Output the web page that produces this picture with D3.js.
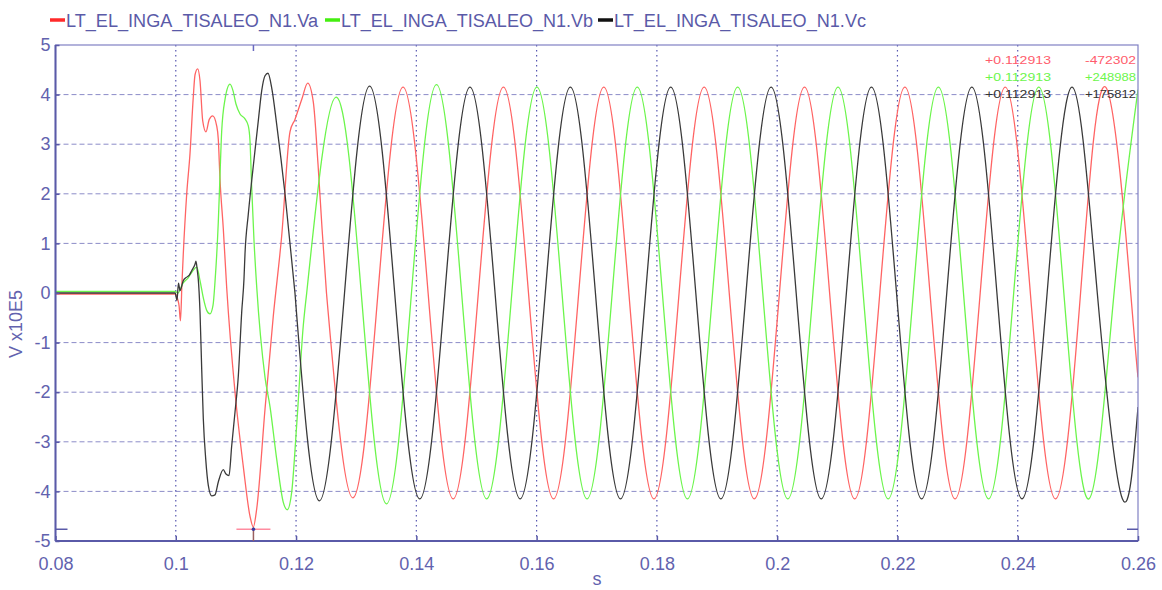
<!DOCTYPE html>
<html><head><meta charset="utf-8">
<script src="https://cdn.jsdelivr.net/npm/d3@7"></script>
<style>
html,body{margin:0;padding:0;background:#fff;}
svg{display:block;}
text{font-family:"Liberation Sans",Arial,sans-serif;}
</style></head>
<body>
<svg id="chart" width="1162" height="590"></svg>
<script>
// ---------- data ----------
const seriesNames = ["LT_EL_INGA_TISALEO_N1.Va","LT_EL_INGA_TISALEO_N1.Vb","LT_EL_INGA_TISALEO_N1.Vc"];
const xTicks = [0.08,0.1,0.12,0.14,0.16,0.18,0.2,0.22,0.24,0.26];
const xTickLabels = ["0.08","0.1","0.12","0.14","0.16","0.18","0.2","0.22","0.24","0.26"];
const yTicks = [-5,-4,-3,-2,-1,0,1,2,3,4,5];
const yGrid = [-4,-3,-2,-1,1,2,3,4];
const xGrid = [0.1,0.12,0.14,0.16,0.18,0.2,0.22,0.24];

// [time s, value x10E5 V] — fault transient part
const vaTransient = [[0.08,-0.02],[0.0999,-0.02],[0.10037,-0.15],[0.10054,-0.25],[0.10078,-0.56],[0.10103,0.2],[0.10125,0.79],[0.10182,2.0],[0.10236,2.8],[0.10291,3.95],[0.10320,4.4],[0.10364,4.52],[0.10403,4.28],[0.10448,3.47],[0.10502,3.25],[0.10557,3.5],[0.10614,3.57],[0.10680,3.37],[0.10707,3.1],[0.10735,2.3],[0.10790,1.3],[0.10847,0.1],[0.10985,-2.0],[0.11123,-3.5],[0.11234,-4.5],[0.11289,-4.72],[0.11346,-4.35],[0.11484,-2.34],[0.11622,-0.46],[0.11761,1.15],[0.11899,3.25],[0.11982,3.5],[0.12094,3.9],[0.12194,4.23],[0.12287,3.85],[0.12365,2.6],[0.12432,1.3],[0.12506,0]];
const vbTransient = [[0.08,0.03],[0.0999,0.03],[0.10037,0.0],[0.10120,0.2],[0.10203,0.3],[0.10286,0.45],[0.10348,0.52],[0.10403,0.25],[0.10458,-0.1],[0.10514,-0.35],[0.10569,-0.42],[0.10619,-0.25],[0.10652,0.22],[0.10707,1.43],[0.10735,2.36],[0.10763,3.25],[0.10818,3.9],[0.10901,4.21],[0.10951,4.08],[0.11001,3.81],[0.11068,3.61],[0.11151,3.51],[0.11206,3.37],[0.11234,3.07],[0.11262,2.14],[0.11301,1.05],[0.11346,0.12],[0.11484,-1.7],[0.11568,-2.3],[0.11678,-3.35],[0.11788,-4.22],[0.11854,-4.37],[0.11927,-4.02],[0.12010,-2.67],[0.12120,-0.66],[0.12177,0]];
const vcTransient = [[0.08,0],[0.0999,0],[0.10020,-0.15],[0.10045,0.2],[0.10070,0.05],[0.10125,0.25],[0.10182,0.32],[0.10225,0.36],[0.10265,0.45],[0.10320,0.58],[0.10336,0.64],[0.10358,0.45],[0.10374,0.28],[0.10403,-0.39],[0.10431,-1.53],[0.10458,-2.54],[0.10498,-3.35],[0.10541,-3.88],[0.10597,-4.09],[0.10652,-4.07],[0.10707,-3.81],[0.10790,-3.56],[0.10835,-3.65],[0.10885,-3.68],[0.10930,-3.08],[0.10985,-2.4],[0.11040,-1.67],[0.11096,-0.39],[0.11134,0.28],[0.11151,0.79],[0.11206,1.59],[0.11262,2.26],[0.11317,2.87],[0.11372,3.47],[0.11429,4.08],[0.11484,4.38],[0.11533,4.43],[0.11600,4.1],[0.11678,3.4],[0.11816,2.0],[0.11982,0]];

// steady-state: peaks, zero crossings and troughs
const vaSteady = [[0.12506,0],[0.12944,-4.13],[0.13362,0],[0.13779,4.15],[0.14196,0],[0.14613,-4.15],[0.15031,0],[0.15448,4.15],[0.15865,0],[0.16282,-4.15],[0.16700,0],[0.17117,4.15],[0.17534,0],[0.17951,-4.15],[0.18369,0],[0.18786,4.15],[0.19203,0],[0.19620,-4.15],[0.20038,0],[0.20455,4.15],[0.20872,0],[0.21289,-4.15],[0.21707,0],[0.22124,4.15],[0.22541,0],[0.22958,-4.15],[0.23376,0],[0.23793,4.15],[0.24210,0],[0.24627,-4.15],[0.25045,0],[0.25462,4.15],[0.25879,0],[0.26,-1.7]];
const vbSteady = [[0.12177,0],[0.12664,3.95],[0.13084,0],[0.13502,-4.25],[0.13919,0],[0.14336,4.2],[0.14753,0],[0.15170,-4.15],[0.15588,0],[0.16005,4.15],[0.16422,0],[0.16839,-4.15],[0.17257,0],[0.17674,4.15],[0.18091,0],[0.18508,-4.15],[0.18926,0],[0.19343,4.15],[0.19760,0],[0.20177,-4.15],[0.20595,0],[0.21012,4.15],[0.21429,0],[0.21846,-4.15],[0.22264,0],[0.22681,4.15],[0.23098,0],[0.23515,-4.15],[0.23933,0],[0.24350,4.15],[0.24767,0],[0.25184,-4.15],[0.25602,0],[0.26,4.1]];
const vcSteady = [[0.11982,0],[0.12388,-4.19],[0.12806,0],[0.13223,4.17],[0.13640,0],[0.14057,-4.15],[0.14475,0],[0.14892,4.15],[0.15309,0],[0.15726,-4.15],[0.16144,0],[0.16561,4.15],[0.16978,0],[0.17395,-4.15],[0.17813,0],[0.18230,4.15],[0.18647,0],[0.19064,-4.15],[0.19482,0],[0.19899,4.15],[0.20316,0],[0.20733,-4.15],[0.21151,0],[0.21568,4.15],[0.21985,0],[0.22402,-4.15],[0.22820,0],[0.23237,4.15],[0.23654,0],[0.24071,-4.15],[0.24489,0],[0.24906,4.15],[0.25323,0],[0.25740,-4.15],[0.26,-2.3]];

// cursor readout
const cursorTime = 0.112913;
const cursorMin = -4.72302;
const readoutTimes = ["+0.112913","+0.112913","+0.112913"];
const readoutValues = ["-472302","+248988","+175812"];

// ---------- drawing ----------
const lineColors = ["#ff6464","#6cf54c","#3a3a3a"];
const legendColors = ["#ff2a2a","#44ee10","#111111"];
const axisColor = "#5a5aa8";
const labelColor = "#6262ae";

const svg = d3.select("#chart");
const L = 55.5, R = 1138, T = 45, B = 541;
const x = d3.scaleLinear().domain([0.08,0.26]).range([L,R]);
const y = d3.scaleLinear().domain([-5,5]).range([B,T]);

svg.append("rect").attr("width",1162).attr("height",590).attr("fill","#fff");

// grid
svg.append("g").selectAll("line").data(yGrid).join("line")
  .attr("x1",L).attr("x2",R).attr("y1",d=>y(d)).attr("y2",d=>y(d))
  .attr("stroke","#8c8cc8").attr("stroke-width",1).attr("stroke-dasharray","5,3");
svg.append("g").selectAll("line").data(xGrid).join("line")
  .attr("x1",d=>x(d)).attr("x2",d=>x(d)).attr("y1",T).attr("y2",B)
  .attr("stroke","#5858b0").attr("stroke-width",1.2).attr("stroke-dasharray","1.5,3.5");

// series
svg.append("defs").append("clipPath").attr("id","plotclip")
  .append("rect").attr("x",L).attr("y",T).attr("width",R-L).attr("height",B-T);
const lineT = d3.line().x(d=>x(d[0])).y(d=>y(d[1])).curve(d3.curveMonotoneX);
const lineS = d3.line().x(d=>x(d[0])).y(d=>y(d[1])).curve(d3.curveNatural);
const gLines = svg.append("g").attr("clip-path","url(#plotclip)");
const transients = [vaTransient,vbTransient,vcTransient];
const steadies = [vaSteady,vbSteady,vcSteady];
for (let i=0;i<3;i++){
  gLines.append("path").attr("d",lineT(transients[i])).attr("fill","none")
    .attr("stroke",lineColors[i]).attr("stroke-width",1.3).attr("stroke-linejoin","round");
  gLines.append("path").attr("d",lineS(steadies[i])).attr("fill","none")
    .attr("stroke",lineColors[i]).attr("stroke-width",1.3).attr("stroke-linejoin","round");
}

// frame
svg.append("rect").attr("x",L).attr("y",T).attr("width",R-L).attr("height",B-T)
  .attr("fill","none").attr("stroke","#8080c4").attr("stroke-width",1.2);
svg.append("line").attr("x1",L).attr("x2",L).attr("y1",T).attr("y2",B).attr("stroke",axisColor).attr("stroke-width",2);
svg.append("line").attr("x1",L).attr("x2",R).attr("y1",B).attr("y2",B).attr("stroke",axisColor).attr("stroke-width",2);

// axes
const xAxis = d3.axisBottom(x).tickValues(xTicks).tickFormat((d,i)=>xTickLabels[i])
  .tickSizeInner(-5).tickSizeOuter(0).tickPadding(16);
const gx = svg.append("g").attr("transform",`translate(0,${B})`).call(xAxis);
gx.select(".domain").remove();
gx.selectAll("line").attr("stroke",axisColor).attr("stroke-width",1.5);
gx.selectAll("text").attr("fill",labelColor).attr("font-size",18).attr("font-family","Liberation Sans, Arial, sans-serif");

const yAxis = d3.axisLeft(y).tickValues(yTicks).tickFormat(d=>String(d))
  .tickSizeInner(-4).tickSizeOuter(0).tickPadding(5);
const gy = svg.append("g").attr("transform",`translate(${L},0)`).call(yAxis);
gy.select(".domain").remove();
gy.selectAll("line").attr("stroke",axisColor).attr("stroke-width",1.5);
gy.selectAll("text").attr("fill",labelColor).attr("font-size",18).attr("font-family","Liberation Sans, Arial, sans-serif");

// axis titles
svg.append("text").attr("transform",`translate(22,${324}) rotate(-90)`).attr("text-anchor","middle")
  .attr("fill",labelColor).attr("font-size",18).text("V x10E5");
svg.append("text").attr("x",597).attr("y",585).attr("text-anchor","middle")
  .attr("fill",labelColor).attr("font-size",18).text("s");

// legend
const legendX = [50,325,598];
seriesNames.forEach((name,i)=>{
  svg.append("line").attr("x1",legendX[i]).attr("x2",legendX[i]+15).attr("y1",20).attr("y2",20)
    .attr("stroke",legendColors[i]).attr("stroke-width",3.5);
  svg.append("text").attr("x",legendX[i]+16).attr("y",27).attr("fill","#5a5aa8")
    .attr("font-size",18).attr("textLength",252).attr("lengthAdjust","spacingAndGlyphs").text(name);
});

// cursor (minimum of Va)
const cx = x(cursorTime), cy = y(cursorMin);
svg.append("line").attr("x1",cx-17).attr("x2",cx+17).attr("y1",cy+2).attr("y2",cy+2)
  .attr("stroke","#ff8ca0").attr("stroke-width",1.5);
svg.append("line").attr("x1",cx).attr("x2",cx).attr("y1",cy).attr("y2",B)
  .attr("stroke","#9a6060").attr("stroke-width",1.5);
svg.append("circle").attr("cx",cx).attr("cy",cy+2).attr("r",1.8).attr("fill","#3a3aa0");
svg.append("line").attr("x1",cx).attr("x2",cx).attr("y1",T).attr("y2",T+6)
  .attr("stroke","#6a6ac0").attr("stroke-width",1.5);
svg.append("line").attr("x1",L).attr("x2",L+12).attr("y1",cy+2).attr("y2",cy+2).attr("stroke",axisColor).attr("stroke-width",1.5);
svg.append("line").attr("x1",R-11).attr("x2",R).attr("y1",cy+2).attr("y2",cy+2).attr("stroke",axisColor).attr("stroke-width",1.5);

// readout
const readColors = ["#ff5c6c","#6cf54c","#333333"];
const readY = [64,81,98];
for (let i=0;i<3;i++){
  svg.append("text").attr("x",985).attr("y",readY[i]).attr("fill",readColors[i])
    .attr("font-family","Liberation Mono, DejaVu Sans Mono, monospace").attr("font-size",11)
    .attr("textLength",66).attr("lengthAdjust","spacingAndGlyphs").text(readoutTimes[i]);
  svg.append("text").attr("x",1085).attr("y",readY[i]).attr("fill",readColors[i])
    .attr("font-family","Liberation Mono, DejaVu Sans Mono, monospace").attr("font-size",11)
    .attr("textLength",51).attr("lengthAdjust","spacingAndGlyphs").text(readoutValues[i]);
}
</script>
</body></html>
